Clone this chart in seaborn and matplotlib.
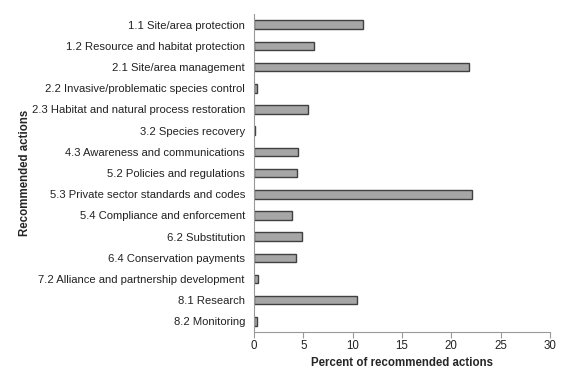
import matplotlib
matplotlib.use("Agg")
import matplotlib.pyplot as plt
import seaborn as sns
import pandas as pd
import numpy as np

# recommended actions and their share (%)
actions = [
    "1.1 Site/area protection",
    "1.2 Resource and habitat protection",
    "2.1 Site/area management",
    "2.2 Invasive/problematic species control",
    "2.3 Habitat and natural process restoration",
    "3.2 Species recovery",
    "4.3 Awareness and communications",
    "5.2 Policies and regulations",
    "5.3 Private sector standards and codes",
    "5.4 Compliance and enforcement",
    "6.2 Substitution",
    "6.4 Conservation payments",
    "7.2 Alliance and partnership development",
    "8.1 Research",
    "8.2 Monitoring",
]
percent = [11.0, 6.1, 21.8, 0.3, 5.5, 0.1, 4.5, 4.35, 22.1, 3.8, 4.9, 4.25, 0.45, 10.45, 0.3]
x_ticks = [0, 5, 10, 15, 20, 25, 30]

df = pd.DataFrame({"action": actions, "percent": percent})

sns.set_style("white")
plt.rcParams["font.family"] = ["Liberation Sans", "DejaVu Sans"]

fig = plt.figure(figsize=(5.65, 3.71), dpi=100)
ax = fig.add_axes([0.4496, 0.105, 0.5239, 0.857])

sns.barplot(data=df, x="percent", y="action", orient="h", color="#a6a6a6",
            edgecolor="#404040", linewidth=1.0, width=0.4, saturation=1, ax=ax)

ax.set_xlim(0, 30)
ax.set_ylim(len(actions) - 0.5, -0.5)
ax.set_xticks(x_ticks)
ax.set_xticklabels([str(t) for t in x_ticks], fontsize=8.3, color="#222222")
ax.set_yticklabels(actions, fontsize=8.1, color="#222222")

# tick marks between categories on y axis
ax.set_yticks(np.arange(-0.5, len(actions), 1), minor=True)
ax.tick_params(axis="y", which="major", length=0, pad=6.5)
ax.tick_params(axis="y", which="minor", length=4, color="#999999", direction="out")
ax.tick_params(axis="x", which="major", length=4, color="#999999", direction="out", pad=2, bottom=True)

for s in ["top", "right"]:
    ax.spines[s].set_visible(False)
for s in ["left", "bottom"]:
    ax.spines[s].set_color("#999999")
    ax.spines[s].set_linewidth(0.8)

ax.set_xlabel("Percent of recommended actions", fontsize=8.3, fontweight="bold", labelpad=3)
ax.set_ylabel("Recommended actions", fontsize=8.3, fontweight="bold")
ax.yaxis.set_label_coords(-0.755, 0.5)

fig.savefig("out.png", dpi=100)
